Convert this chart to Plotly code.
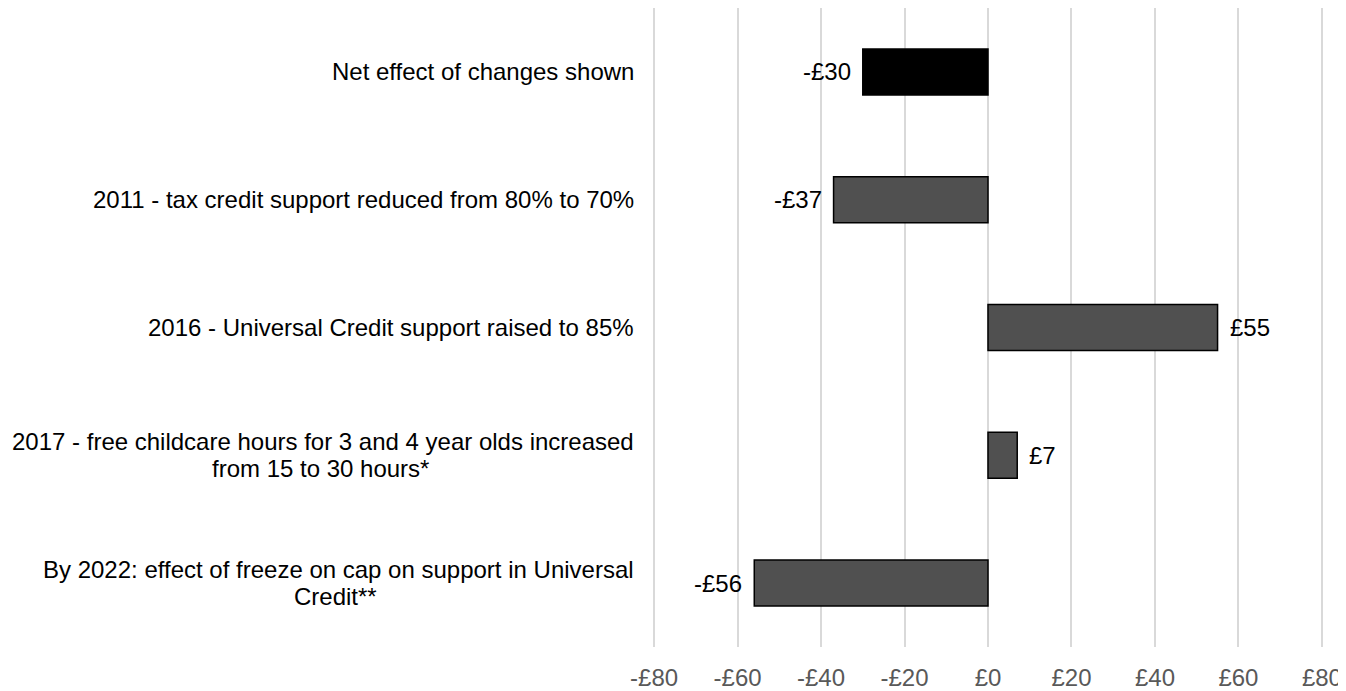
import plotly.graph_objects as go

categories = [
    "Net effect of changes shown",
    "2011 - tax credit support reduced from 80% to 70%",
    "2016 - Universal Credit support raised to 85%",
    "2017 - free childcare hours for 3 and 4 year olds increased<br>from 15 to 30 hours*",
    "By 2022: effect of freeze on cap on support in Universal<br>Credit**",
]
values = [-30, -37, 55, 7, -56]
value_labels = ["-£30", "-£37", "£55", "£7", "-£56"]
bar_colors = ["#000000", "#505050", "#505050", "#505050", "#505050"]
tick_vals = [-80, -60, -40, -20, 0, 20, 40, 60, 80]
tick_text = ["-£80", "-£60", "-£40", "-£20", "£0", "£20", "£40", "£60", "£80"]

FONT = "Liberation Sans, Arial, sans-serif"
FS = 24
LINE_H = 27

fig = go.Figure()
fig.add_trace(go.Bar(
    x=values, y=categories, orientation="h",
    marker=dict(color=bar_colors, line=dict(color="#000000", width=1.5)),
    width=0.36, hoverinfo="skip",
))

annotations = []
for cat, v, lab in zip(categories, values, value_labels):
    annotations.append(dict(
        x=v, y=cat, xref="x", yref="y", text=lab, showarrow=False,
        xanchor="left" if v >= 0 else "right",
        xshift=10 if v >= 0 else -10,
        font=dict(family=FONT, size=FS, color="#000000"),
    ))
    lines = cat.split("<br>")
    n = len(lines)
    if n == 1:
        annotations.append(dict(
            x=0, y=cat, xref="paper", yref="y", text=cat, showarrow=False,
            xanchor="right", xshift=-16,
            font=dict(family=FONT, size=FS, color="#000000"),
        ))
    else:
        # centre each wrapped line under the (right-aligned) longest line
        annotations.append(dict(
            x=0, y=cat, xref="paper", yref="y", text=lines[0], showarrow=False,
            xanchor="right", xshift=-16, yshift=(n - 1) / 2 * LINE_H,
            font=dict(family=FONT, size=FS, color="#000000"),
        ))
        for i in range(1, n):
            annotations.append(dict(
                x=0, y=cat, xref="paper", yref="y",
                text=lines[i], showarrow=False,
                xanchor="right", align="center", xshift=-16,
                yshift=(n - 1) / 2 * LINE_H - i * LINE_H,
                width=None,
                font=dict(family=FONT, size=FS, color="#000000"),
            ))

# convert continuation lines to be centred under first line
first_line_widths = {}
fig.update_layout(annotations=annotations)

# Centre continuation lines: anchor at centre of the first line's extent
import re
def approx_width(s):
    w = {"i": 222, "l": 222, "j": 222, "f": 278, "t": 278, " ": 278, "r": 333, "-": 333,
         "*": 389, ":": 278, "m": 833, "w": 722, "%": 889, "B": 667, "C": 722, "U": 722}
    return sum(w.get(ch, 556) for ch in s) / 1000 * FS

new_ann = []
for a in annotations:
    new_ann.append(a)
for cat in categories:
    lines = cat.split("<br>")
    if len(lines) > 1:
        full_w = approx_width(lines[0])
        for a in new_ann:
            if a.get("y") == cat and a.get("xref") == "paper" and a.get("text") in lines[1:]:
                a["xanchor"] = "center"
                a["xshift"] = -16 - full_w / 2
                a.pop("width", None)

fig.update_layout(
    width=1338, height=683,
    margin=dict(l=644, r=22, t=0, b=40),
    paper_bgcolor="white", plot_bgcolor="white",
    showlegend=False,
    annotations=new_ann,
    xaxis=dict(
        range=[-80.5, 80.5], tickvals=tick_vals, ticktext=tick_text,
        showgrid=True, gridcolor="#d9d9d9", gridwidth=1.5,
        zeroline=False, showline=False, ticks="",
        ticklabelstandoff=14,
        tickfont=dict(family=FONT, size=FS, color="#595959"),
    ),
    yaxis=dict(
        categoryorder="array", categoryarray=categories,
        range=[4.5, -0.5], showticklabels=False, showgrid=False,
        zeroline=False, showline=False, ticks="",
    ),
)

fig.write_html("out.html")
